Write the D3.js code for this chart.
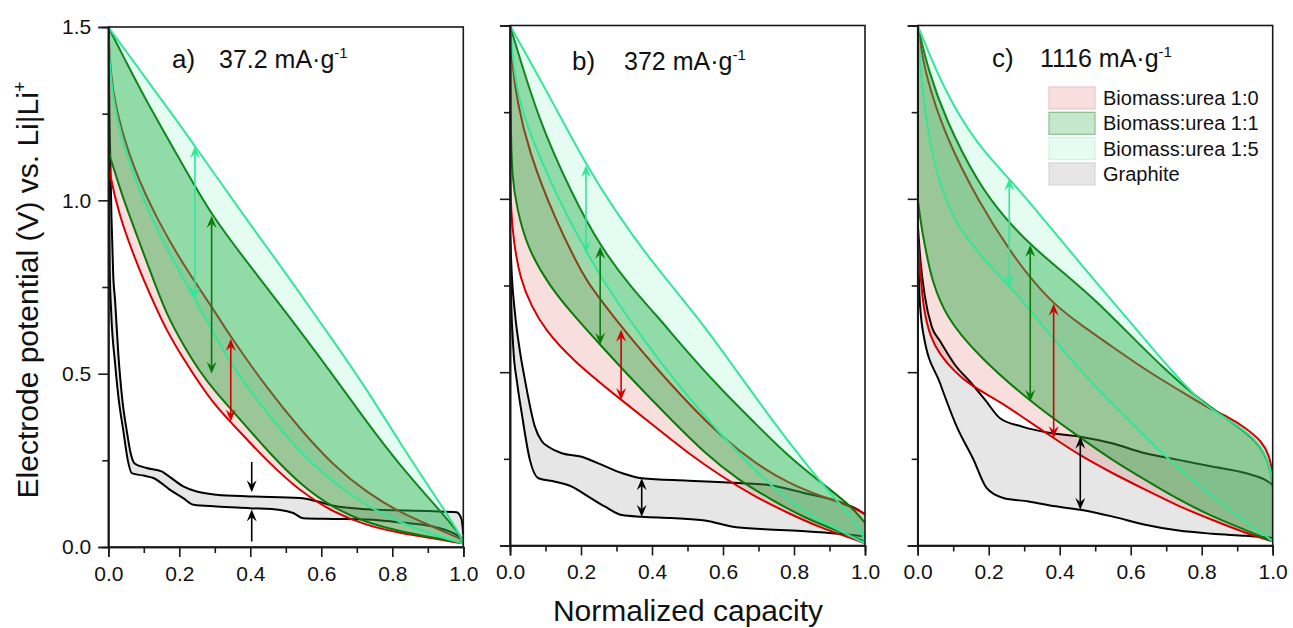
<!DOCTYPE html>
<html>
<head>
<meta charset="utf-8">
<script src="https://cdn.jsdelivr.net/npm/d3@7"></script>
<style>
  body { margin: 0; background: #fff; }
  svg { display: block; }
  text { font-family: "Liberation Sans", Arial, sans-serif; fill: #111; }
</style>
</head>
<body>
<svg id="chart" width="1293" height="628"></svg>
<script>
// ---- data ----
const seriesNames = ["Biomass:urea 1:0", "Biomass:urea 1:1", "Biomass:urea 1:5", "Graphite"];
const panelLabels = ["a)", "b)", "c)"];
const currentRates = ["37.2", "372", "1116"];
const xTicks = [0, 0.2, 0.4, 0.6, 0.8, 1.0];
const xMinorTicks = [0.1, 0.3, 0.5, 0.7, 0.9];
const yTicks = [0, 0.5, 1.0, 1.5];
const yMinorTicks = [0.25, 0.75, 1.25];

// [normalized capacity, potential V] -- "Up" = charge branch, "Dn" = discharge branch
// panel a) 37.2 mA/g
const a10Up = [[0,1.5],[0.006,1.37],[0.019,1.27],[0.07,1.09],[0.145,0.93],[0.22,0.8],[0.3,0.68],[0.345,0.605],[0.446,0.46],[0.54,0.34],[0.634,0.235],[0.728,0.157],[0.822,0.099],[0.915,0.058],[1.0,0.02]];
const a10Dn = [[0,1.12],[0.005,1.07],[0.03,0.96],[0.07,0.845],[0.1,0.77],[0.13,0.7],[0.164,0.625],[0.21,0.545],[0.258,0.47],[0.3,0.41],[0.343,0.362],[0.4,0.3],[0.446,0.25],[0.54,0.16],[0.634,0.1],[0.728,0.062],[0.822,0.04],[0.915,0.025],[1.0,0.01]];
const a11Up = [[0,1.5],[0.05,1.4],[0.1,1.3],[0.2,1.12],[0.291,0.955],[0.4,0.81],[0.502,0.675],[0.634,0.495],[0.728,0.36],[0.822,0.235],[0.915,0.127],[0.972,0.06],[1.0,0.02]];
const a11Dn = [[0,1.14],[0.01,1.11],[0.04,1.01],[0.08,0.9],[0.12,0.79],[0.164,0.67],[0.21,0.585],[0.258,0.505],[0.3,0.45],[0.343,0.4],[0.4,0.335],[0.446,0.28],[0.54,0.18],[0.634,0.112],[0.728,0.07],[0.822,0.045],[0.915,0.027],[1.0,0.012]];
const a15Up = [[0,1.5],[0.1,1.36],[0.2,1.22],[0.244,1.156],[0.3,1.075],[0.4,0.93],[0.5,0.79],[0.568,0.69],[0.634,0.595],[0.728,0.455],[0.822,0.3],[0.915,0.155],[0.972,0.068],[1.0,0.015]];
const a15Dn = [[0,1.5],[0.005,1.34],[0.033,1.19],[0.089,1.02],[0.164,0.86],[0.244,0.715],[0.287,0.635],[0.352,0.515],[0.446,0.388],[0.54,0.272],[0.634,0.185],[0.728,0.118],[0.822,0.07],[0.915,0.035],[1.0,0.01]];
const aGrUp = [[0,1.5],[0.004,1.2],[0.009,0.95],[0.014,0.78],[0.019,0.713],[0.028,0.56],[0.04,0.42],[0.052,0.335],[0.062,0.275],[0.075,0.24],[0.108,0.228],[0.15,0.218],[0.164,0.209],[0.211,0.175],[0.249,0.16],[0.305,0.151],[0.399,0.146],[0.54,0.141],[0.587,0.132],[0.634,0.119],[0.728,0.109],[0.915,0.103],[0.981,0.1],[0.995,0.08],[1.0,0.036]];
const aGrDn = [[0,1.5],[0.002,1.1],[0.004,0.8],[0.008,0.68],[0.019,0.531],[0.03,0.42],[0.042,0.338],[0.055,0.25],[0.066,0.213],[0.099,0.206],[0.127,0.199],[0.174,0.165],[0.211,0.141],[0.24,0.122],[0.305,0.117],[0.399,0.112],[0.484,0.107],[0.521,0.098],[0.549,0.083],[0.634,0.081],[0.728,0.079],[0.822,0.071],[0.915,0.059],[0.972,0.04],[1.0,0.023]];

// panel b) 372 mA/g
const b10Up = [[0,1.5],[0.005,1.4],[0.02,1.28],[0.052,1.14],[0.127,0.939],[0.211,0.77],[0.235,0.737],[0.305,0.641],[0.408,0.516],[0.502,0.41],[0.596,0.314],[0.69,0.237],[0.784,0.18],[0.878,0.141],[0.962,0.113],[1.0,0.09]];
const b10Dn = [[0,1.09],[0.003,0.96],[0.01,0.88],[0.028,0.77],[0.061,0.689],[0.099,0.622],[0.174,0.536],[0.313,0.42],[0.408,0.343],[0.502,0.266],[0.596,0.199],[0.69,0.141],[0.784,0.093],[0.878,0.05],[0.962,0.021],[1.0,0.006]];
const b11Up = [[0,1.5],[0.08,1.227],[0.174,1.015],[0.254,0.862],[0.347,0.737],[0.408,0.67],[0.502,0.555],[0.596,0.449],[0.69,0.353],[0.784,0.257],[0.878,0.18],[0.962,0.113],[1.0,0.065]];
const b11Dn = [[0,1.42],[0.002,1.2],[0.006,1.06],[0.019,0.975],[0.047,0.862],[0.11,0.75],[0.174,0.67],[0.254,0.579],[0.362,0.459],[0.455,0.362],[0.549,0.266],[0.643,0.189],[0.737,0.132],[0.831,0.079],[0.925,0.041],[1.0,0.012]];
const b15Up = [[0,1.5],[0.099,1.32],[0.214,1.097],[0.3,0.96],[0.38,0.845],[0.465,0.737],[0.549,0.631],[0.643,0.497],[0.737,0.363],[0.831,0.238],[0.925,0.122],[0.981,0.064],[1.0,0.01]];
const b15Dn = [[0,1.5],[0.01,1.38],[0.025,1.29],[0.052,1.198],[0.127,1.016],[0.214,0.85],[0.258,0.77],[0.362,0.612],[0.455,0.487],[0.549,0.372],[0.643,0.266],[0.737,0.17],[0.831,0.093],[0.925,0.045],[1.0,0.006]];
const bGrUp = [[0,0.9],[0.005,0.78],[0.014,0.67],[0.028,0.56],[0.042,0.478],[0.07,0.343],[0.09,0.3],[0.108,0.285],[0.146,0.266],[0.202,0.256],[0.249,0.237],[0.315,0.209],[0.371,0.194],[0.502,0.187],[0.643,0.18],[0.718,0.176],[0.831,0.151],[0.925,0.127],[0.981,0.103],[1.0,0.09]];
const bGrDn = [[0,0.9],[0.003,0.72],[0.009,0.574],[0.02,0.47],[0.033,0.382],[0.056,0.247],[0.08,0.194],[0.127,0.184],[0.174,0.17],[0.221,0.141],[0.268,0.112],[0.315,0.088],[0.371,0.083],[0.455,0.079],[0.549,0.072],[0.624,0.055],[0.718,0.047],[0.831,0.041],[0.925,0.034],[1.0,0.026]];

// panel c) 1116 mA/g
const c10Up = [[0,1.5],[0.02,1.36],[0.078,1.18],[0.172,0.99],[0.266,0.84],[0.322,0.766],[0.383,0.697],[0.453,0.641],[0.547,0.574],[0.641,0.507],[0.735,0.449],[0.81,0.401],[0.876,0.37],[0.923,0.34],[0.97,0.3],[0.99,0.26],[1.0,0.21]];
const c10Dn = [[0,0.89],[0.008,0.78],[0.015,0.69],[0.035,0.6],[0.063,0.55],[0.105,0.5],[0.147,0.463],[0.232,0.415],[0.313,0.358],[0.383,0.31],[0.453,0.262],[0.547,0.209],[0.641,0.161],[0.735,0.113],[0.829,0.074],[0.923,0.036],[1.0,0.012]];
const c11Up = [[0,1.5],[0.03,1.37],[0.078,1.23],[0.172,1.04],[0.25,0.94],[0.317,0.867],[0.435,0.766],[0.5,0.708],[0.594,0.612],[0.688,0.516],[0.782,0.43],[0.876,0.362],[0.942,0.314],[0.979,0.266],[0.996,0.209],[1.0,0.17]];
const c11Dn = [[0,1.0],[0.01,0.92],[0.025,0.84],[0.04,0.766],[0.078,0.66],[0.172,0.545],[0.317,0.415],[0.453,0.314],[0.547,0.247],[0.641,0.189],[0.735,0.132],[0.829,0.084],[0.923,0.045],[1.0,0.012]];
const c15Up = [[0,1.5],[0.078,1.304],[0.172,1.15],[0.258,1.059],[0.36,0.935],[0.453,0.82],[0.51,0.75],[0.594,0.651],[0.688,0.535],[0.782,0.43],[0.829,0.391],[0.923,0.333],[0.97,0.285],[0.993,0.227],[1.0,0.18]];
const c15Dn = [[0,1.5],[0.01,1.33],[0.04,1.111],[0.097,0.939],[0.172,0.843],[0.228,0.78],[0.258,0.748],[0.313,0.685],[0.407,0.564],[0.5,0.458],[0.594,0.362],[0.688,0.266],[0.782,0.18],[0.876,0.103],[0.97,0.036],[1.0,0.012]];
const cGrUp = [[0,0.93],[0.008,0.82],[0.02,0.72],[0.04,0.63],[0.063,0.59],[0.106,0.52],[0.147,0.473],[0.19,0.42],[0.232,0.367],[0.294,0.343],[0.378,0.324],[0.458,0.314],[0.547,0.295],[0.641,0.266],[0.735,0.247],[0.829,0.228],[0.923,0.209],[0.979,0.189],[1.0,0.175]];
const cGrDn = [[0,0.93],[0.005,0.72],[0.016,0.61],[0.063,0.468],[0.11,0.343],[0.157,0.248],[0.194,0.166],[0.241,0.137],[0.313,0.127],[0.388,0.113],[0.458,0.103],[0.547,0.084],[0.641,0.06],[0.735,0.043],[0.829,0.034],[0.923,0.028],[1.0,0.022]];

// hysteresis arrows: [series index, capacity, potential from, potential to, heads]
const aArrows = [[2, 0.244, 0.715, 1.156, "both"], [1, 0.291, 0.5, 0.955, "both"], [0, 0.345, 0.362, 0.6, "both"],
                 [3, 0.404, 0.245, 0.158, "end"], [3, 0.404, 0.016, 0.108, "end"]];
const bArrows = [[2, 0.214, 0.843, 1.097, "both"], [1, 0.254, 0.579, 0.862, "both"], [0, 0.313, 0.42, 0.622, "both"],
                 [3, 0.371, 0.083, 0.194, "both"]];
const cArrows = [[2, 0.258, 0.748, 1.059, "both"], [1, 0.317, 0.415, 0.867, "both"], [0, 0.383, 0.31, 0.697, "both"],
                 [3, 0.458, 0.103, 0.314, "both"]];

// ---- styles / layout ----
const lineColors = ["#d40000", "#0b7a0b", "#33e69a", "#000000"];
const fillColors = ["#d40000", "#19a537", "#33e69a", "#e6e6e6"];
const fillOpacity = [0.13, 0.42, 0.13, 1];
const drawOrder = [3, 0, 1, 2];

const panels = [
  { label: panelLabels[0], rate: currentRates[0], left: 108.3, top: 27, labelX: 172, rateX: 219, textY: 68,
    curves: [[a10Up, a10Dn], [a11Up, a11Dn], [a15Up, a15Dn], [aGrUp, aGrDn]], arrows: aArrows, yLabels: true },
  { label: panelLabels[1], rate: currentRates[1], left: 510, top: 25.5, labelX: 572, rateX: 624, textY: 70,
    curves: [[b10Up, b10Dn], [b11Up, b11Dn], [b15Up, b15Dn], [bGrUp, bGrDn]], arrows: bArrows, yLabels: false },
  { label: panelLabels[2], rate: currentRates[2], left: 917.7, top: 25.5, labelX: 992, rateX: 1040, textY: 67,
    curves: [[c10Up, c10Dn], [c11Up, c11Dn], [c15Up, c15Dn], [cGrUp, cGrDn]], arrows: cArrows, yLabels: false, legend: true }
];
const pw = 355, ph = 520;

const svg = d3.select("#chart");

panels.forEach((p, i) => {
  const x = d3.scaleLinear().domain([0, 1]).range([p.left, p.left + pw]);
  const y = d3.scaleLinear().domain([0, 1.5]).range([p.top + ph, p.top]);
  // smooth B-spline for the carbons, monotone spline for graphite plateaus
  const lineFor = s => d3.line().x(d => x(d[0])).y(d => y(d[1]))
    .curve(s === 3 ? d3.curveMonotoneX : d3.curveBasis);

  const clipId = "clip" + i;
  svg.append("clipPath").attr("id", clipId)
    .append("rect").attr("x", p.left).attr("y", p.top).attr("width", pw).attr("height", ph);

  const g = svg.append("g").attr("clip-path", `url(#${clipId})`);

  drawOrder.forEach(s => {
    const line = lineFor(s);
    const [up, dn] = p.curves[s];
    const area = line(up) + line(dn.slice().reverse()).replace(/^M/, "L") + "Z";
    g.append("path").attr("d", area)
      .attr("fill", fillColors[s]).attr("fill-opacity", fillOpacity[s]).attr("stroke", "none");
    [up, dn].forEach(c => {
      g.append("path").attr("d", line(c))
        .attr("fill", "none").attr("stroke", lineColors[s]).attr("stroke-width", 2)
        .attr("stroke-linejoin", "round");
    });
  });

  // arrows
  p.arrows.forEach(([s, cx, y0, y1, heads]) => {
    const px = x(cx), pa = y(y0), pb = y(y1);
    const col = lineColors[s];
    const L = 12, w = 5, n = 7.5;
    const head = (tip, tail) => {
      const dir = tip > tail ? 1 : -1;
      g.append("path")
        .attr("d", `M${px},${tip}L${px - w},${tip - dir * L}L${px},${tip - dir * n}L${px + w},${tip - dir * L}Z`)
        .attr("fill", col);
      return tip - dir * n;
    };
    let start = pa;
    const end = head(pb, pa);
    if (heads === "both") start = head(pa, pb);
    g.append("line").attr("x1", px).attr("x2", px).attr("y1", start).attr("y2", end)
      .attr("stroke", col).attr("stroke-width", 1.6);
  });

  // frame
  svg.append("rect").attr("x", p.left).attr("y", p.top).attr("width", pw).attr("height", ph)
    .attr("fill", "none").attr("stroke", "#1a1a1a").attr("stroke-width", 1.6);

  // axes
  const xAxis = svg.append("g").attr("transform", `translate(0,${p.top + ph})`)
    .call(d3.axisBottom(x).tickValues(xTicks).tickFormat(d3.format(".1f")).tickSize(10).tickPadding(9));
  svg.append("g").attr("transform", `translate(0,${p.top + ph})`)
    .call(d3.axisBottom(x).tickValues(xMinorTicks).tickFormat("").tickSize(6));
  const yAxis = svg.append("g").attr("transform", `translate(${p.left},0)`)
    .call(d3.axisLeft(y).tickValues(yTicks).tickFormat(p.yLabels ? d3.format(".1f") : "").tickSize(10).tickPadding(7));
  svg.append("g").attr("transform", `translate(${p.left},0)`)
    .call(d3.axisLeft(y).tickValues(yMinorTicks).tickFormat("").tickSize(6));

  svg.selectAll(".domain").attr("stroke", "#1a1a1a").attr("stroke-width", 1.6);
  svg.selectAll(".tick line").attr("stroke", "#1a1a1a").attr("stroke-width", 1.6);
  [xAxis, yAxis].forEach(ax => ax.selectAll("text").attr("font-size", 21).attr("fill", "#111")
    .attr("font-family", '"Liberation Sans", Arial, sans-serif'));

  // panel title
  svg.append("text").attr("x", p.labelX).attr("y", p.textY).attr("font-size", 26).text(p.label);
  const t = svg.append("text").attr("x", p.rateX).attr("y", p.textY).attr("font-size", 25);
  t.append("tspan").text(p.rate + " mA\u00B7g");
  t.append("tspan").attr("dy", -10).attr("font-size", 15).text("-1");

  // legend
  if (p.legend) {
    const legStroke = ["#e6c6c6", "#8cbc8c", "#d2f2e2", "#d6d6d6"];
    const legOpacity = [0.13, 0.25, 0.12, 1];
    seriesNames.forEach((name, k) => {
      const ly = 87 + k * 25.3;
      svg.append("rect").attr("x", 1049).attr("y", ly).attr("width", 46).attr("height", 22)
        .attr("fill", "#fff").attr("stroke", "none");
      svg.append("rect").attr("x", 1049).attr("y", ly).attr("width", 46).attr("height", 22)
        .attr("fill", fillColors[k]).attr("fill-opacity", legOpacity[k])
        .attr("stroke", legStroke[k]).attr("stroke-width", 1.2);
      svg.append("text").attr("x", 1103).attr("y", ly + 18).attr("font-size", 20).text(name);
    });
  }
});

// axis titles
svg.append("text").attr("x", 688).attr("y", 621).attr("text-anchor", "middle")
  .attr("font-size", 30).text("Normalized capacity");
const yt = svg.append("text").attr("transform", "translate(38,290) rotate(-90)")
  .attr("text-anchor", "middle").attr("font-size", 30);
yt.append("tspan").text("Electrode potential (V) vs. Li|Li");
yt.append("tspan").attr("dy", -12).attr("font-size", 18).text("+");
</script>
</body>
</html>
